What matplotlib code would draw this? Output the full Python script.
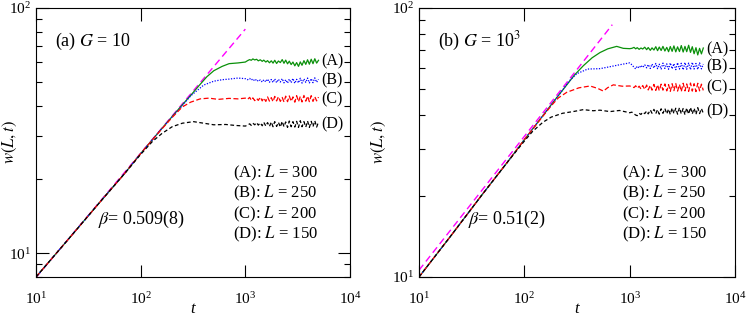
import numpy as np
import matplotlib
matplotlib.use("Agg")
import matplotlib.pyplot as plt
from matplotlib.ticker import LogLocator, NullLocator, NullFormatter

plt.rcParams['font.family'] = ['Liberation Serif', 'DejaVu Serif']
plt.rcParams['mathtext.fontset'] = 'stix'

# ---- data ----
# shared sampling grid for the fluctuating (saturated) part
t_noise = [1050, 1100, 1140, 1180, 1230, 1280, 1330, 1390, 1450, 1500,
           1570, 1630, 1700, 1770, 1840, 1910, 1990, 2070, 2160, 2250,
           2340, 2430, 2530, 2630, 2740, 2850, 2970, 3090, 3220, 3350,
           3480, 3630, 3780, 3930, 4090, 4260, 4430, 4610, 4800, 5000]

# panel (a) G = 10
a_tA = [10, 20, 40, 70, 100, 150, 200, 250, 300, 368, 430, 500, 600, 700, 850, 1000]
a_wA = [8.0, 11.3, 16.0, 21.1, 25.5, 31.3, 36.1, 40.3, 44.0, 48.7, 52.5, 55.5, 57.8, 59.3, 59.7, 60.2]
a_nA = [61.0, 61.6, 61.2, 62.0, 61.4, 61.8, 60.9, 61.5, 60.6, 61.3, 60.2, 61.0, 59.8, 60.9, 59.6, 61.2,
        59.4, 60.8, 59.9, 61.6, 59.5, 61.3, 59.2, 60.7, 58.8, 60.2, 58.1, 59.9, 57.8, 60.3, 58.4, 61.0,
        58.9, 61.5, 59.0, 61.8, 59.3, 62.1, 59.6, 61.2]

a_tB = [10, 20, 40, 70, 100, 150, 200, 250, 300, 400, 500, 600, 700, 850, 1000]
a_wB = [8.0, 11.3, 16.0, 21.1, 25.5, 31.3, 36.0, 40.0, 43.8, 48.5, 50.3, 51.0, 51.3, 51.8, 51.5]
a_nB = [51.0, 51.6, 50.8, 51.4, 50.4, 51.2, 50.2, 50.9, 49.9, 51.0, 50.0, 51.3, 49.8, 51.1, 49.7, 51.4,
        49.6, 51.2, 49.9, 51.5, 49.5, 51.0, 49.4, 51.3, 49.6, 51.6, 49.3, 51.2, 49.5, 51.7, 49.4, 51.4,
        49.7, 51.8, 49.5, 51.5, 49.6, 51.9, 49.8, 51.2]

a_tC = [10, 20, 40, 70, 100, 150, 200, 250, 300, 370, 450, 550, 700, 850, 1000]
a_wC = [8.0, 11.3, 16.0, 21.1, 25.5, 31.2, 35.8, 39.5, 41.3, 42.6, 42.9, 42.4, 42.8, 42.6, 42.9]
a_nC = [42.4, 43.2, 42.1, 43.0, 41.9, 42.8, 42.0, 43.3, 41.8, 43.0, 41.6, 43.4, 41.7, 43.1, 41.5, 43.6,
        41.8, 43.5, 41.6, 43.2, 41.4, 43.7, 41.5, 43.8, 41.6, 43.4, 41.3, 43.9, 41.5, 43.6, 41.4, 44.0,
        41.7, 43.7, 41.5, 43.9, 41.6, 43.5, 41.8, 43.3]

a_tD = [10, 20, 40, 70, 100, 130, 160, 200, 250, 320, 400, 500, 650, 800, 1000]
a_wD = [8.0, 11.3, 16.0, 21.1, 25.3, 28.6, 30.8, 32.8, 33.9, 34.4, 33.9, 33.4, 33.5, 33.2, 33.0]
a_nD = [33.3, 33.7, 33.2, 33.9, 33.4, 34.1, 33.3, 34.0, 33.1, 34.2, 33.0, 34.1, 32.9, 34.3, 32.8, 34.4,
        32.9, 34.2, 32.7, 34.5, 32.8, 34.3, 32.6, 34.6, 32.8, 34.4, 32.7, 34.5, 32.6, 34.7, 32.8, 34.4,
        32.7, 34.6, 32.6, 34.5, 32.8, 34.7, 32.7, 34.3]

a_fit_t = [10, 1000]
a_fit_w = [7.97, 82.0]

# panel (b) G = 10^3
b_tA = [10, 20, 40, 70, 100, 150, 200, 250, 300, 363, 440, 523, 620, 753, 870, 1000]
b_wA = [10.0, 14.2, 20.3, 26.9, 32.4, 39.8, 46.1, 51.5, 56.4, 61.0, 65.3, 68.3, 70.5, 72.0, 70.8, 70.6]
b_nA = [70.8, 71.4, 70.5, 71.2, 70.2, 71.0, 70.4, 71.5, 70.0, 71.3, 69.6, 71.1, 69.8, 71.8, 69.4, 71.6,
        69.5, 72.0, 69.2, 71.4, 68.8, 71.9, 69.0, 72.3, 68.7, 71.7, 68.9, 72.5, 68.6, 72.0, 68.8, 72.7,
        68.4, 71.8, 67.6, 71.2, 66.9, 70.8, 67.5, 71.0]

b_tB = [10, 20, 40, 70, 100, 150, 200, 235, 270, 315, 400, 523, 650, 800, 1000]
b_wB = [10.0, 14.2, 20.3, 26.9, 32.4, 39.8, 46.0, 50.0, 53.8, 57.0, 59.3, 59.5, 60.5, 61.5, 62.5]
b_nB = [61.5, 60.2, 59.4, 60.8, 59.8, 61.2, 60.1, 61.5, 59.9, 61.6, 59.6, 61.9, 59.8, 62.2, 59.5, 61.8,
        59.3, 62.4, 59.6, 62.0, 59.2, 62.5, 59.4, 62.1, 59.0, 62.6, 59.3, 62.3, 58.9, 62.7, 59.2, 62.4,
        59.0, 62.8, 59.3, 62.2, 59.1, 62.5, 59.4, 61.9]

b_tC = [10, 20, 40, 70, 100, 150, 180, 210, 253, 330, 421, 500, 563, 620, 700, 850, 1000]
b_wC = [10.0, 14.2, 20.3, 26.9, 32.4, 39.6, 43.3, 46.3, 48.6, 50.5, 51.3, 50.2, 49.1, 50.6, 51.8, 51.2, 51.3]
b_nC = [51.0, 50.6, 51.4, 50.3, 51.2, 50.0, 51.5, 49.8, 51.7, 49.6, 51.6, 49.5, 52.0, 49.4, 51.8, 49.3,
        52.1, 49.5, 52.2, 49.2, 51.9, 49.0, 52.3, 49.3, 52.4, 49.1, 52.0, 48.9, 52.5, 49.2, 52.2, 49.0,
        52.6, 49.1, 52.3, 48.9, 52.5, 49.2, 52.1, 49.4]

b_tD = [10, 20, 40, 70, 100, 120, 150, 180, 230, 300, 363, 450, 523, 650, 800, 1000]
b_wD = [10.0, 14.2, 20.3, 26.9, 32.0, 34.8, 37.6, 39.3, 40.6, 41.3, 41.9, 41.5, 41.7, 41.2, 41.6, 40.8]
b_nD = [41.0, 40.4, 40.0, 39.8, 40.6, 40.2, 41.0, 40.5, 41.4, 40.4, 41.8, 40.6, 42.0, 40.5, 41.9, 40.3,
        42.2, 40.6, 42.3, 40.4, 42.1, 40.2, 42.5, 40.5, 42.4, 40.3, 42.6, 40.4, 42.3, 40.1, 42.5, 40.3,
        42.7, 40.4, 42.4, 40.2, 42.6, 40.5, 42.3, 40.6]

b_fit_t = [10, 684]
b_fit_w = [10.6, 86.7]

labels = ['(A)', '(B)', '(C)', '(D)']
sizes = [300, 250, 200, 150]
colors = ['#0a900a', '#0000ff', '#ff0000', '#000000']
styles = ['-', (0, (1, 1.2)), (0, (4, 2)), (0, (3, 2))]


def panel(ax, curves, fit_t, fit_w, title, beta, ylim, beta_x, leg_x, ylab_x):
    ax.plot(fit_t, fit_w, color='#ff00ff', lw=1.0, ls=(0, (5, 3)))
    for (t, w, n), c, s, lab in zip(curves, colors, styles, labels):
        tt = list(t) + t_noise
        ww = list(w) + n
        ax.plot(tt, ww, color=c, lw=0.9, ls=s)
        ax.text(5300, np.mean(n), lab, fontsize=11.5, ha='left', va='center')
    ax.set_xscale('log')
    ax.set_yscale('log')
    ax.set_xlim(10, 1e4)
    ax.set_ylim(*ylim)
    ax.set_xticks([10, 100, 1000, 10000])
    ax.xaxis.set_minor_locator(NullLocator())
    ax.set_yticks([10, 100])
    ax.yaxis.set_minor_locator(LogLocator(base=10, subs=np.arange(2, 10)))
    ax.yaxis.set_minor_formatter(NullFormatter())
    ax.tick_params(which='both', direction='in', top=True, right=True, width=0.8,
                   labelsize=11)
    ax.tick_params(which='major', length=9)
    ax.tick_params(which='minor', length=4.5)
    ax.tick_params(axis='x', pad=10)
    ax.set_xlabel('t', fontsize=12, fontstyle='italic')
    ax.xaxis.set_label_coords(0.5, -0.09)
    ax.set_ylabel('$w(L,t)$', fontsize=12)
    ax.yaxis.set_label_coords(ylab_x, 0.5)
    ax.text(0.06, 0.877, title, transform=ax.transAxes, fontsize=13, va='center')
    ax.text(beta_x, 0.213, beta, transform=ax.transAxes, fontsize=13, va='center')
    for i, (lab, L) in enumerate(zip(labels, sizes)):
        ax.text(leg_x, 0.384 - 0.075 * i, lab + ': $L$ = %d' % L, transform=ax.transAxes,
                fontsize=12, va='center')


fig = plt.figure(figsize=(7.47, 3.16), dpi=100)
ax1 = fig.add_axes([36 / 747, 1 - 277 / 316, 314 / 747, 269 / 316])
ax2 = fig.add_axes([419 / 747, 1 - 277 / 316, 316 / 747, 269 / 316])

panel(ax1, [(a_tA, a_wA, a_nA), (a_tB, a_wB, a_nB), (a_tC, a_wC, a_nC), (a_tD, a_wD, a_nD)],
      a_fit_t, a_fit_w, '(a) $G$ = 10', r'$\beta$= 0.509(8)', (8, 100), 0.197, 0.627, -0.055)
panel(ax2, [(b_tA, b_wA, b_nA), (b_tB, b_wB, b_nB), (b_tC, b_wC, b_nC), (b_tD, b_wD, b_nD)],
      b_fit_t, b_fit_w, '(b) $G$ = 10$^3$', r'$\beta$= 0.51(2)', (10, 100), 0.155, 0.641, -0.097)

fig.savefig('out.png', dpi=100)
